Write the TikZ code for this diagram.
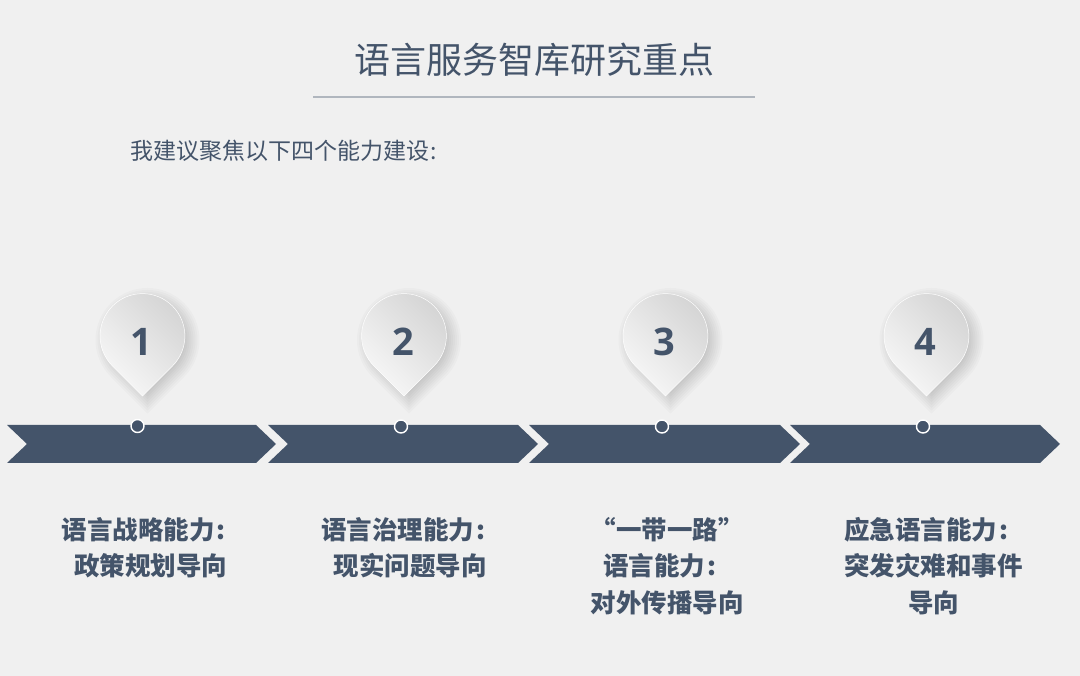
\documentclass[tikz,border=0pt]{standalone}
\usepackage{fontspec}
\setmainfont{Noto Sans CJK SC}
\newfontfamily\numberfont{Open Sans}
\usepackage{xcolor}
\usepackage{tikz}
\definecolor{slidebg}{HTML}{F0F0F0}
\definecolor{slidenavy}{HTML}{44546A}
\definecolor{slideline}{HTML}{B0B6BE}
\definecolor{pindark}{HTML}{D4D4D4}
\definecolor{pinlight}{HTML}{F8F8F8}
\newcommand{\chevron}[2]{%
\fill[slidenavy] (#1,251) -- ++(20,-19) -- ++(-20,-19) -- (#2-20,213) -- (#2,232) -- (#2-20,251) -- cycle;}
\newcommand{\pinshape}[1]{%
\foreach \r in {32,34,...,52}{
\fill[black,opacity=0.018] (#1+5,336-1.414*\r) -- ++(-0.7071*\r,0.7071*\r) arc[start angle=225,end angle=-45,radius=\r];}
\path[left color=pindark,right color=pinlight,shading angle=-45,draw=white,line width=0.5pt] (#1,280) -- ++(-30,30) arc[start angle=225,end angle=-45,radius=42.4] -- cycle;}
\begin{document}
\begin{tikzpicture}[x=1pt,y=1pt,
  titletext/.style={text=slidenavy,font=\fontsize{36}{36}\selectfont,inner sep=0pt},
  introtext/.style={text=slidenavy,font=\fontsize{23}{23}\selectfont,inner sep=0pt,anchor=west},
  numbertext/.style={text=slidenavy,font=\fontsize{38}{38}\selectfont\numberfont\bfseries,inner sep=0pt},
  labeltext/.style={text=slidenavy,font=\fontsize{25.5}{36.5}\selectfont\bfseries,align=center,inner sep=0pt,anchor=north},
  dotmark/.style={circle,fill=slidenavy,draw=white,line width=1.4pt,minimum size=13pt,inner sep=0pt}]
\fill[slidebg] (0,0) rectangle (1080,676);
\useasboundingbox (0,0) rectangle (1080,676);
\node[titletext] (title) at (534,616) {语言服务智库研究重点};
\coordinate (ruleleft) at (313,579);
\coordinate (ruleright) at (755,579);
\draw[slideline,line width=1.1pt] (ruleleft) -- (ruleright);
\node[introtext] (intro) at (130,525) {我建议聚焦以下四个能力建设\kern1pt:};
\chevron{7}{276}
\chevron{268}{538}
\chevron{529}{800}
\chevron{790}{1060}
\pinshape{142.5}
\pinshape{404}
\pinshape{665.5}
\pinshape{926.5}
\node[numbertext] (n1) at (141,334) {1};
\node[numbertext] (n2) at (403,334) {2};
\node[numbertext] (n3) at (664.5,334) {3};
\node[numbertext] (n4) at (925.5,334) {4};
\node[dotmark] (d1) at (137.5,250) {};
\node[dotmark] (d2) at (401,249.5) {};
\node[dotmark] (d3) at (662,249.5) {};
\node[dotmark] (d4) at (923,249.5) {};
\node[labeltext] (l1) at (143.5,159) {语言战略能力\kern2pt:\\\hspace*{14pt}政策规划导向};
\node[labeltext] (l2) at (403,159) {语言治理能力\kern2pt:\\\hspace*{14pt}现实问题导向};
\node[labeltext] (l3) at (667,159) {“一带一路”\\\hspace*{-15pt}语言能力\kern2pt:\\对外传播导向};
\node[labeltext] (l4) at (933.5,159) {\hspace*{-15pt}应急语言能力\kern2pt:\\突发灾难和事件\\导向};
\end{tikzpicture}
\end{document}
